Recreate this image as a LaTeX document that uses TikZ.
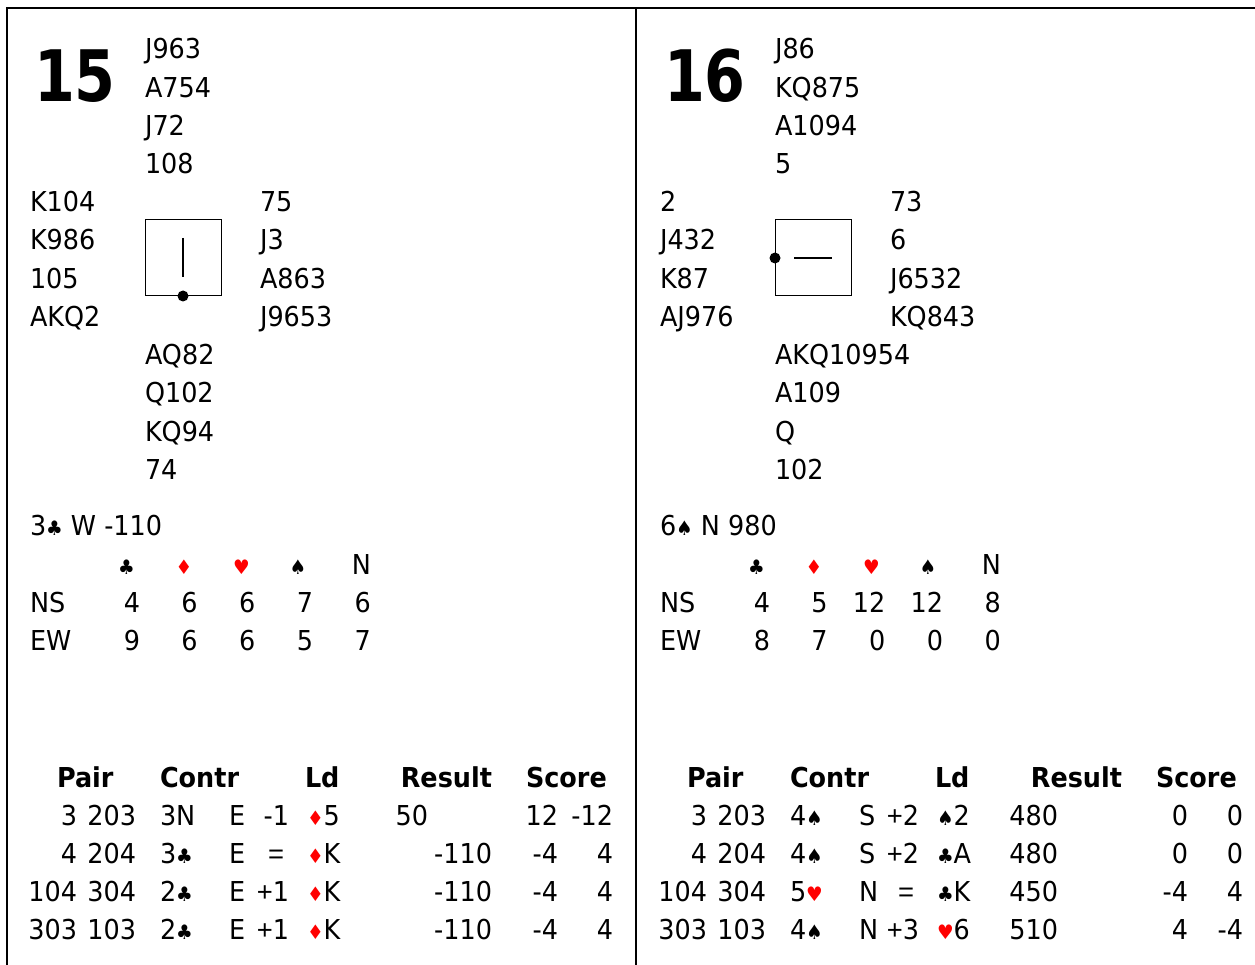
\documentclass[tikz,border=0pt]{standalone}
\usepackage{fontspec}
\setmainfont{DejaVu Sans}[FakeStretch=0.93]
\newfontfamily\narrowf{Liberation Sans}
\definecolor{suitred}{RGB}{255,0,0}
\newcommand\mainf{\fontsize{27.4}{38}\selectfont}
\newcommand\bigf{\fontsize{71}{71}\selectfont\bfseries}
\newcommand\suitf{\fontsize{20}{20}\selectfont}
\newcommand\SClub{{\suitf ♣}}
\newcommand\SSpade{{\suitf ♠}}
\newcommand\SHeart{{\suitf\color{suitred}♥}}
\newcommand\SDiam{{\suitf\color{suitred}♦}}
\newcommand\PL{{\narrowf +}}
\newcommand\EQ{{\narrowf =}}
\begin{document}
\begin{tikzpicture}[x=1pt,y=-1pt,
  every node/.style={inner sep=0pt,outer sep=0pt},
  txt/.style={anchor=base west,font=\mainf},
  rtxt/.style={anchor=base east,font=\mainf},
  ctxt/.style={anchor=base,font=\mainf},
  hdr/.style={anchor=base west,font=\mainf\bfseries},
  hdrr/.style={anchor=base east,font=\mainf\bfseries},
  bignum/.style={anchor=base west,font=\bigf},
  frame/.style={line width=1.3pt},
  compass/.style={draw,line width=1pt,minimum size=76pt,anchor=north west},
  vulline/.style={line width=1.1pt},
]
\useasboundingbox (0,0) rectangle (1255,965);
% frame
\draw[frame] (7,965) -- (7,8) -- (1255,8);
\draw[frame] (636,8) -- (636,965);

% ================= Board 15 =================
\node[bignum] (b15num) at (34,102) {\scalebox{0.89}[1]{15}};
\foreach \t [count=\i from 0] in {J963,A754,J72,108}
  \node[txt] (b15n\i) at (145,{59+38.2*\i}) {\t};
\foreach \t [count=\i from 0] in {K104,K986,105,AKQ2}
  \node[txt] (b15w\i) at (30,{211.8+38.2*\i}) {\t};
\foreach \t [count=\i from 0] in {75,J3,A863,J9653}
  \node[txt] (b15e\i) at (260,{211.8+38.2*\i}) {\t};
\foreach \t [count=\i from 0] in {AQ82,Q102,KQ94,74}
  \node[txt] (b15s\i) at (145,{364.6+38.2*\i}) {\t};
\node[compass] (b15box) at (145,220) {};
\draw[vulline] (183,238) -- (183,277);
\fill (b15box.south) circle (5.5);

\node[txt] (b15con) at (30,535) {3\SClub{} W -110};
\node[anchor=base] (b15sc) at (126.5,574) {\SClub};
\node[anchor=base] (b15sd) at (184,574) {\SDiam};
\node[anchor=base] (b15sh) at (241.5,574) {\SHeart};
\node[anchor=base] (b15ss) at (298,574) {\SSpade};
\node[rtxt] (b15sn) at (371,574) {N};
\node[txt] (b15ns) at (30,612) {NS};
\node[txt] (b15ew) at (30,650) {EW};
\foreach \v [count=\i from 0] in {4,6,6,7,6}
  \node[rtxt] (b15nsv\i) at ({140+57.7*\i},612) {\v};
\foreach \v [count=\i from 0] in {9,6,6,5,7}
  \node[rtxt] (b15ewv\i) at ({140+57.7*\i},650) {\v};

\node[hdr] (b15hp) at (57,787) {Pair};
\node[hdr] (b15hc) at (160,787) {Contr};
\node[hdr] (b15hl) at (305,787) {Ld};
\node[hdrr] (b15hr) at (492,787) {Result};
\node[hdr] (b15hs) at (526,787) {Score};
\foreach \pa/\pb/\co/\de/\tr/\ld/\rp/\rn/\sa/\sb [count=\r from 0] in {
  3/203/3N/E/-1/\SDiam 5/50//12/-12,
  4/204/3\SClub/E/\EQ\kern5pt/\SDiam K//-110/-4/4,
  104/304/2\SClub/E/\PL 1/\SDiam K//-110/-4/4,
  303/103/2\SClub/E/\PL 1/\SDiam K//-110/-4/4}{
  \node[rtxt] (b15r\r pa) at (77,{825+38*\r}) {\pa};
  \node[rtxt] (b15r\r pb) at (136,{825+38*\r}) {\pb};
  \node[txt] (b15r\r co) at (160,{825+38*\r}) {\co};
  \node[txt] (b15r\r de) at (229,{825+38*\r}) {\de};
  \node[rtxt] (b15r\r tr) at (289,{825+38*\r}) {\tr};
  \node[txt] (b15r\r ld) at (307,{825+38*\r}) {\ld};
  \node[rtxt] (b15r\r rp) at (428,{825+38*\r}) {\rp};
  \node[rtxt] (b15r\r rn) at (492,{825+38*\r}) {\rn};
  \node[rtxt] (b15r\r sa) at (558,{825+38*\r}) {\sa};
  \node[rtxt] (b15r\r sb) at (613,{825+38*\r}) {\sb};
}

% ================= Board 16 =================
\begin{scope}[xshift=630pt]
\node[bignum] (b16num) at (34,102) {\scalebox{0.89}[1]{16}};
\foreach \t [count=\i from 0] in {J86,KQ875,A1094,5}
  \node[txt] (b16n\i) at (145,{59+38.2*\i}) {\t};
\foreach \t [count=\i from 0] in {2,J432,K87,AJ976}
  \node[txt] (b16w\i) at (30,{211.8+38.2*\i}) {\t};
\foreach \t [count=\i from 0] in {73,6,J6532,KQ843}
  \node[txt] (b16e\i) at (260,{211.8+38.2*\i}) {\t};
\foreach \t [count=\i from 0] in {AKQ10954,A109,Q,102}
  \node[txt] (b16s\i) at (145,{364.6+38.2*\i}) {\t};
\node[compass] (b16box) at (145,220) {};
\draw[vulline] (164,258) -- (202,258);
\fill (b16box.west) circle (5.5);

\node[txt] (b16con) at (30,535) {6\SSpade{} N 980};
\node[anchor=base] (b16sc) at (126.5,574) {\SClub};
\node[anchor=base] (b16sd) at (184,574) {\SDiam};
\node[anchor=base] (b16sh) at (241.5,574) {\SHeart};
\node[anchor=base] (b16ss) at (298,574) {\SSpade};
\node[rtxt] (b16sn) at (371,574) {N};
\node[txt] (b16ns) at (30,612) {NS};
\node[txt] (b16ew) at (30,650) {EW};
\foreach \v [count=\i from 0] in {4,5,12,12,8}
  \node[rtxt] (b16nsv\i) at ({140+57.7*\i},612) {\v};
\foreach \v [count=\i from 0] in {8,7,0,0,0}
  \node[rtxt] (b16ewv\i) at ({140+57.7*\i},650) {\v};

\node[hdr] (b16hp) at (57,787) {Pair};
\node[hdr] (b16hc) at (160,787) {Contr};
\node[hdr] (b16hl) at (305,787) {Ld};
\node[hdrr] (b16hr) at (492,787) {Result};
\node[hdr] (b16hs) at (526,787) {Score};
\foreach \pa/\pb/\co/\de/\tr/\ld/\rp/\rn/\sa/\sb [count=\r from 0] in {
  3/203/4\SSpade/S/\PL 2/\SSpade 2/480//0/0,
  4/204/4\SSpade/S/\PL 2/\SClub A/480//0/0,
  104/304/5\SHeart/N/\EQ\kern5pt/\SClub K/450//-4/4,
  303/103/4\SSpade/N/\PL 3/\SHeart 6/510//4/-4}{
  \node[rtxt] (b16r\r pa) at (77,{825+38*\r}) {\pa};
  \node[rtxt] (b16r\r pb) at (136,{825+38*\r}) {\pb};
  \node[txt] (b16r\r co) at (160,{825+38*\r}) {\co};
  \node[txt] (b16r\r de) at (229,{825+38*\r}) {\de};
  \node[rtxt] (b16r\r tr) at (289,{825+38*\r}) {\tr};
  \node[txt] (b16r\r ld) at (307,{825+38*\r}) {\ld};
  \node[rtxt] (b16r\r rp) at (428,{825+38*\r}) {\rp};
  \node[rtxt] (b16r\r rn) at (492,{825+38*\r}) {\rn};
  \node[rtxt] (b16r\r sa) at (558,{825+38*\r}) {\sa};
  \node[rtxt] (b16r\r sb) at (613,{825+38*\r}) {\sb};
}
\end{scope}
\end{tikzpicture}
\end{document}
